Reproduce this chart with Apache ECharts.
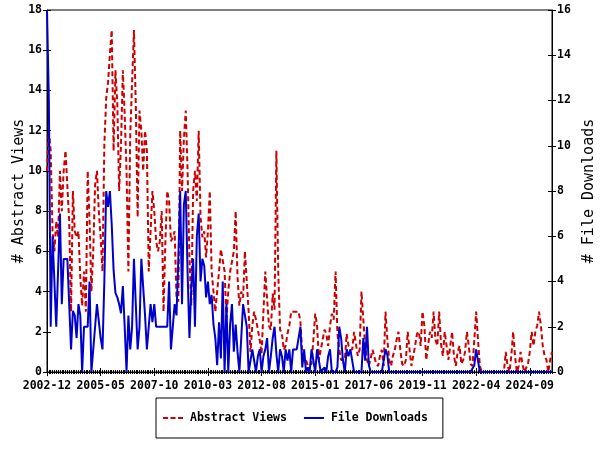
<!DOCTYPE html>
<html>
<head>
<meta charset="utf-8">
<script src="https://cdn.jsdelivr.net/npm/echarts@6/dist/echarts.min.js"></script>
<style>html,body{margin:0;padding:0;background:#fff}#c{width:600px;height:450px}</style>
</head>
<body>
<div id="c"></div>
<script>
// Monthly categories: 2002-12 .. 2025-09
var startYear = 2002, startMonth = 12, monthCount = 274;
var categories = [];
for (var k = 0; k < monthCount; k++) {
  var m = startMonth - 1 + k;
  var yy = startYear + Math.floor(m / 12);
  var mm = (m % 12) + 1;
  categories.push(yy + '-' + (mm < 10 ? '0' + mm : '' + mm));
}

var abstractViews = [
  10,12,11,7,6,7.5,6.7,10,8,10, 11,11,7.5,3,9,7,6.7,7,4.7,3.3,
  5,3,10,7.5,4,6,9.3,10,8,6.7, 5,11.3,13.6,14.4,15.8,17,11,15,13.4,9,
  11.3,15,12.8,10,5,11.8,14.4,17,13.3,7.7, 13,12,10,12,11,5,5,9,8,6.5,
  6,6.5,8,3,6.5,9,8.5,6.5,6.7,7, 3.7,3.5,12,9,11.6,13,10,5.7,3.3,9,
  10,8.5,12,7.7,6.7,7,5.7,7,9,5, 4,3,3,5,6.1,6.1,5,2.7,4,5,
  5,6,8,4.7,3.3,4,3.7,6,4.5,3, 1,2.3,3,2.6,2.1,1.6,0.9,3,5,3.6,
  2.3,2.1,3.9,3.1,11,5,2.1,1.9,1.1,1.3, 1.9,2.3,3,3,3,3,3,2.5,0.9,0.9,
  0.6,0.3,0.3,0.4,1.6,2.9,2.3,0.6,1.1,1.6, 2.1,1.9,1.3,2.3,2.9,2.6,5,1.9,1.1,0.6,
  0.6,0.6,1.9,1.3,1.3,1.1,2,2,0.8,1.1, 4,2.6,1.3,0.6,0.3,0.3,1.1,1.1,0.4,0.3,
  0.8,1.1,0.3,3,1.6,0.6,0.3,0.8,1.1,1.6, 2,1.1,0.4,0.3,0.6,2,1.1,0.3,0.8,1.3,
  1.9,2,1.3,3,2.3,0.6,1.3,2,1.7,3, 1.6,1.3,3,1.4,0.8,2,2,0.6,1.3,2,
  0.8,0.3,1,1.3,0.4,0.6,1,2,1.3,0.4, 0.3,1.6,3,1.6,0.3,0,0,0,0,0,
  0,0,0,0,0,0,0,0,1,0.3, 0,0.8,2,0.8,0,0.3,1,0.4,0,0,
  0.4,1,2,1.3,2,2.3,3,2.3,1.3,0.8, 0.6,0,0.6,1
];

var fileDownloads = [
  16,12,2,6,6,2,2,7,3,5, 5,5,3,1,2.7,2.5,1.5,3,2.5,0,
  2,2,2,4,0,1,2,3,3,1.5, 1,4,8,7.3,8,6.5,4.5,3.5,3.3,3,
  2.6,3.8,2,0,2.5,1,2,5,3,1, 2,5,5,2.5,1,2,3,2.2,3,2,
  2,2,2,2,2,2,4,1,1,3, 2.5,5,8,3,7.4,8,4.4,1.5,3.7,5,
  2,6,7,4,5,4.7,3.3,4,3,3.4, 2.1,1.5,0.3,2.2,0.6,4,0,3,0,2.1,
  3,0.9,2.1,0.9,0,0,3,3,2,0, 0,1,1,0,0.7,1,0,0.7,1,1.5,
  0,0.7,1.5,2,0.8,0,1,0.7,0,1, 0.5,1,0,1,1,1,1.5,2,0.2,1,
  0,0.2,0,1,1,0,1,1,0,0, 0.2,0,0.7,1,0,0,0,0.2,2,1.5,
  0.5,0,1,0.7,1,0.5,0,0,0,0, 0,1.5,0.5,2,0.3,0,0,0,0,0,
  0,0,0.5,1,0.75,0,0,0,0,0, 0,0,0,0,0,0,0,0,0,0,
  0,0,0,0,0,0,0,0,0,0, 0,0,0,0,0,0,0,0,0,0,
  0,0,0,0,0,0,0,0,0,0, 0,0.3,1,0.5,0,0,0,0,0,0,
  0,0,0,0,0,0,0,0,0,0, 0,0,0,0,0,0,0,0,0,0,
  0,0,0,0,0,0,0,0,0,0, 0,0,0,0
];

var leftTicks = {min: 0, max: 18, interval: 2};
var rightTicks = {min: 0, max: 16, interval: 2};
var seriesNames = ['Abstract Views', 'File Downloads'];

var FONT = 'DejaVu Sans Mono';

function catAxis(extra) {
  var base = {
    type: 'category', data: categories, boundaryGap: false, position: 'bottom',
    axisLine: {show: false}, axisLabel: {show: false}, splitLine: {show: false},
    axisTick: {show: true, interval: 0, length: 2, inside: false, lineStyle: {color: '#000', width: 1}}
  };
  for (var key in extra) base[key] = extra[key];
  return base;
}

var option = {
  animation: false,
  backgroundColor: '#fff',
  grid: {left: 47, right: 48, top: 10, bottom: 78, containLabel: false, outerBoundsMode: 'none',
         show: true, borderColor: '#000', borderWidth: 1, backgroundColor: 'transparent'},
  legend: {
    data: [
      {name: seriesNames[0], icon: 'path://M0,0H5V2H0Z M7.5,0H12.5V2H7.5Z M15,0H20V2H15Z'},
      {name: seriesNames[1], icon: 'path://M0,0H20V2H0Z'}
    ],
    left: 156, top: 398,
    orient: 'horizontal',
    borderColor: '#000', borderWidth: 1,
    padding: [13, 15, 13, 7],
    itemWidth: 20, itemHeight: 2, itemGap: 17,
    textStyle: {fontFamily: FONT, fontWeight: 'bold', fontSize: 11.5, color: '#000', padding: [0, 0, 0, 2], lineHeight: 14}
  },
  xAxis: [
    catAxis({
      axisLine: {show: true, lineStyle: {color: '#000', width: 1}},
      axisLabel: {show: true, interval: 28, margin: 8, fontFamily: FONT, fontWeight: 'bold', fontSize: 11.5, color: '#000'},
      axisTick: {show: true, interval: 0, length: 2, inside: false, lineStyle: {color: '#000'}}
    }),
    catAxis({axisTick: {show: true, interval: 0, length: 2, inside: true, lineStyle: {color: '#000'}}}),
    catAxis({axisTick: {show: true, interval: 28, length: 4, inside: false, lineStyle: {color: '#000'}}}),
    catAxis({axisTick: {show: true, interval: 28, length: 4, inside: true, lineStyle: {color: '#000'}}})
  ],
  yAxis: [
    {
      type: 'value', position: 'left', min: leftTicks.min, max: leftTicks.max, interval: leftTicks.interval,
      name: '# Abstract Views', nameLocation: 'middle', nameRotate: 90, nameGap: 20, nameMoveOverlap: false,
      nameTextStyle: {fontFamily: FONT, fontSize: 15, color: '#000'},
      axisLine: {show: true, lineStyle: {color: '#000'}},
      axisTick: {show: true, length: 4, inside: false, lineStyle: {color: '#000'}},
      axisLabel: {margin: 5, fontFamily: FONT, fontWeight: 'bold', fontSize: 11.5, color: '#000'},
      splitLine: {show: false}
    },
    {
      type: 'value', position: 'right', min: rightTicks.min, max: rightTicks.max, interval: rightTicks.interval,
      name: '# File Downloads', nameLocation: 'middle', nameRotate: 90, nameGap: 30, nameMoveOverlap: false,
      nameTextStyle: {fontFamily: FONT, fontSize: 15, color: '#000'},
      axisLine: {show: true, lineStyle: {color: '#000'}},
      axisTick: {show: true, length: 4, inside: false, lineStyle: {color: '#000'}},
      axisLabel: {margin: 5, fontFamily: FONT, fontWeight: 'bold', fontSize: 11.5, color: '#000'},
      splitLine: {show: false}
    },
    {
      type: 'value', position: 'left', min: leftTicks.min, max: leftTicks.max, interval: leftTicks.interval,
      axisLine: {show: false}, axisLabel: {show: false}, splitLine: {show: false},
      axisTick: {show: true, length: 4, inside: true, lineStyle: {color: '#000'}}
    },
    {
      type: 'value', position: 'right', min: rightTicks.min, max: rightTicks.max, interval: rightTicks.interval,
      axisLine: {show: false}, axisLabel: {show: false}, splitLine: {show: false},
      axisTick: {show: true, length: 4, inside: true, lineStyle: {color: '#000'}}
    }
  ],
  series: [
    {
      name: seriesNames[0], type: 'line', data: abstractViews, xAxisIndex: 0, yAxisIndex: 0,
      symbol: 'none', showSymbol: false,
      itemStyle: {color: '#cc0000'},
      lineStyle: {color: '#cc0000', width: 2, type: [5, 3]}
    },
    {
      name: seriesNames[1], type: 'line', data: fileDownloads, xAxisIndex: 0, yAxisIndex: 1,
      symbol: 'none', showSymbol: false,
      itemStyle: {color: '#0000cc'},
      lineStyle: {color: '#0000cc', width: 2, type: 'solid'}
    }
  ]
};

var chart = echarts.init(document.getElementById('c'), null, {renderer: 'canvas'});
chart.setOption(option);
</script>
</body>
</html>
